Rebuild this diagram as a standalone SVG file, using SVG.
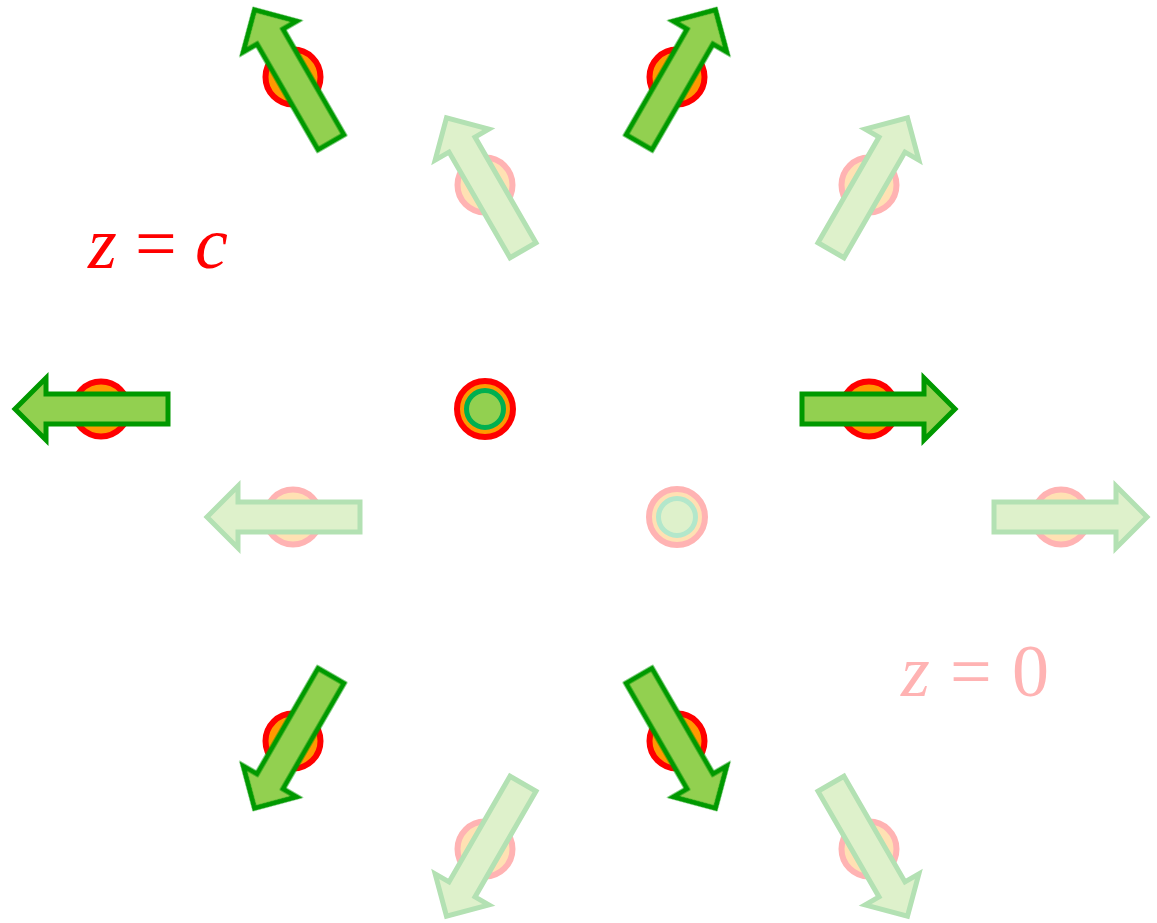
<svg xmlns="http://www.w3.org/2000/svg" width="1157" height="923" viewBox="0 0 1157 923">
  <defs>
    <style>
      .atom { fill: #FF9900; stroke: #FF0000; stroke-width: 6; }
      .core { fill: #92D050; stroke: #00B050; stroke-width: 5; }
      .arrow { fill: #92D050; stroke: #009900; stroke-width: 5; stroke-linejoin: miter; stroke-miterlimit: 10; }
      .lbl { font-family: 'Liberation Serif', 'Times New Roman', serif; font-size: 74px; }
      .it { font-style: italic; }
    </style>
    <polygon id="arr" points="0,-15 122,-15 122,-31 153,0 122,31 122,15 0,15"/>
  </defs>
  <rect width="1157" height="923" fill="#FFFFFF"/>

  <!-- z = 0 layer (faded) -->
  <g id="layer-z0" opacity="0.3">
    <g id="b-center">
      <circle class="atom" cx="677" cy="517" r="28"/>
      <circle class="core" cx="677" cy="517" r="18.5"/>
    </g>
    <g id="b-right">
      <circle class="atom" cx="1061" cy="517" r="27.5"/>
      <use href="#arr" class="arrow" transform="translate(677,517) rotate(0) translate(317,0)"/>
    </g>
    <g id="b-upright">
      <circle class="atom" cx="869" cy="185" r="27.5"/>
      <use href="#arr" class="arrow" transform="translate(677,517) rotate(-60) translate(308,0)"/>
    </g>
    <g id="b-upleft">
      <circle class="atom" cx="485" cy="185" r="27.5"/>
      <use href="#arr" class="arrow" transform="translate(677,517) rotate(-120) translate(308,0)"/>
    </g>
    <g id="b-left">
      <circle class="atom" cx="293" cy="517" r="27.5"/>
      <use href="#arr" class="arrow" transform="translate(677,517) rotate(180) translate(317,0)"/>
    </g>
    <g id="b-downleft">
      <circle class="atom" cx="485" cy="849" r="27.5"/>
      <use href="#arr" class="arrow" transform="translate(677,517) rotate(120) translate(308,0)"/>
    </g>
    <g id="b-downright">
      <circle class="atom" cx="869" cy="849" r="27.5"/>
      <use href="#arr" class="arrow" transform="translate(677,517) rotate(60) translate(308,0)"/>
    </g>
  </g>

  <!-- z = c layer -->
  <g id="layer-zc">
    <g id="a-center">
      <circle class="atom" cx="485" cy="409" r="28"/>
      <circle class="core" cx="485" cy="409" r="18.5"/>
    </g>
    <g id="a-right">
      <circle class="atom" cx="869" cy="409" r="27.5"/>
      <use href="#arr" class="arrow" transform="translate(485,409) rotate(0) translate(317,0)"/>
    </g>
    <g id="a-upright">
      <circle class="atom" cx="677" cy="77" r="27.5"/>
      <use href="#arr" class="arrow" transform="translate(485,409) rotate(-60) translate(308,0)"/>
    </g>
    <g id="a-upleft">
      <circle class="atom" cx="293" cy="77" r="27.5"/>
      <use href="#arr" class="arrow" transform="translate(485,409) rotate(-120) translate(308,0)"/>
    </g>
    <g id="a-left">
      <circle class="atom" cx="101" cy="409" r="27.5"/>
      <use href="#arr" class="arrow" transform="translate(485,409) rotate(180) translate(317,0)"/>
    </g>
    <g id="a-downleft">
      <circle class="atom" cx="293" cy="741" r="27.5"/>
      <use href="#arr" class="arrow" transform="translate(485,409) rotate(120) translate(308,0)"/>
    </g>
    <g id="a-downright">
      <circle class="atom" cx="677" cy="741" r="27.5"/>
      <use href="#arr" class="arrow" transform="translate(485,409) rotate(60) translate(308,0)"/>
    </g>
  </g>

  <g id="connectors"/>

  <g id="labels" font-family="Liberation Serif, serif">
    <text class="lbl" y="268" fill="#FF0000"><tspan class="it" x="88">z</tspan><tspan x="135"> </tspan><tspan x="135">=</tspan><tspan x="195"> </tspan><tspan class="it" x="195">c</tspan></text>
    <text class="lbl" y="696" fill="#FFB3B3"><tspan class="it" x="901">z</tspan><tspan x="950"> </tspan><tspan x="950">=</tspan><tspan x="1012"> </tspan><tspan x="1012">0</tspan></text>
  </g>
</svg>
